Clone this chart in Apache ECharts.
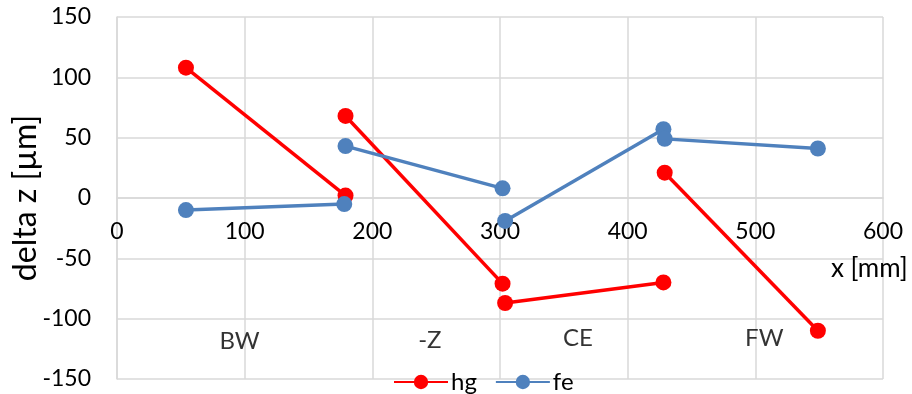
<!DOCTYPE html>
<html>
<head>
<meta charset="utf-8">
<script src="https://cdn.jsdelivr.net/npm/echarts@6/dist/echarts.min.js"></script>
<style>
  html, body { margin: 0; padding: 0; background: #fff; }
  #chart { width: 912px; height: 394px; }
</style>
</head>
<body>
<div id="chart"></div>
<script>
// Measured height deviation per station segment, two probe heads
const hgSegments = [
  [[54, 108], [179, 2]],
  [[179, 68], [302, -71]],
  [[304, -87], [428, -70]],
  [[429, 21], [549, -110]]
];
const feSegments = [
  [[54, -10], [178, -5]],
  [[179, 43], [302, 8]],
  [[304, -19], [428, 57]],
  [[429, 49], [549, 41]]
];
// Section names placed inside the plot
const sectionNames = ['BW', '-Z', 'CE', 'FW'];
const sectionPos = [[96, -119], [245, -118], [361, -116], [507, -116]];

const xTicks = [0, 100, 200, 300, 400, 500, 600];
const yTicks = [-150, -100, -50, 0, 50, 100, 150];

const FONT = 'Lato';
const RED = '#ff0000';
const BLUE = '#4f81bd';
const GRIDC = '#d9d9d9';

const GRID = { left: 117, right: 29, top: 17, bottom: 15 };
const PLOT_H = 394 - GRID.top - GRID.bottom;
// lift the x axis from the plot bottom up to the zero line
const zeroLift = -PLOT_H * (0 - yTicks[0]) / (yTicks[yTicks.length - 1] - yTicks[0]);

function segSeries(name, color, segs) {
  return segs.map(seg => ({
    name: name,
    type: 'line',
    data: seg,
    symbol: 'circle',
    symbolSize: 16,
    lineStyle: { color: color, width: 3.5 },
    itemStyle: { color: color },
    emphasis: { disabled: true },
    animation: false,
    z: 3
  }));
}

const chart = echarts.init(document.getElementById('chart'), null, { renderer: 'canvas' });
chart.setOption({
  backgroundColor: '#fff',
  animation: false,
  textStyle: { fontFamily: FONT },
  grid: Object.assign({ containLabel: false, outerBoundsMode: 'none' }, GRID),
  xAxis: {
    type: 'value',
    min: xTicks[0], max: xTicks[xTicks.length - 1], interval: 100,
    offset: zeroLift,
    name: 'x [mm]',
    nameLocation: 'end',
    nameGap: -52,
    nameMoveOverlap: false,
    nameTextStyle: { fontFamily: FONT, fontSize: 26, color: '#000', align: 'left', verticalAlign: 'top', padding: [58, 0, 0, 0] },
    axisLine: { onZero: false, lineStyle: { color: GRIDC, width: 1.5 } },
    axisTick: { show: false },
    axisLabel: { fontFamily: FONT, fontSize: 23, color: '#000', margin: 22 },
    splitLine: { show: true, lineStyle: { color: GRIDC, width: 1.5 } }
  },
  yAxis: {
    type: 'value',
    min: yTicks[0], max: yTicks[yTicks.length - 1], interval: 50,
    name: 'delta z [µm]',
    nameLocation: 'middle',
    nameGap: 75,
    nameMoveOverlap: false,
    nameRotate: 90,
    nameTextStyle: { fontFamily: FONT, fontSize: 32, color: '#000' },
    axisLine: { show: true, onZero: false, lineStyle: { color: GRIDC, width: 1.5 } },
    axisTick: { show: false },
    axisLabel: { fontFamily: FONT, fontSize: 23, color: '#000', margin: 26 },
    splitLine: { show: true, lineStyle: { color: GRIDC, width: 1.5 } }
  },
  legend: {
    data: ['hg', 'fe'],
    left: 388,
    top: 365,
    itemWidth: 54,
    itemHeight: 18,
    itemGap: 18,
    textStyle: { fontFamily: FONT, fontSize: 24, color: '#000', padding: [0, 0, 0, -2] }
  },
  series: [
    ...segSeries('hg', RED, hgSegments),
    ...segSeries('fe', BLUE, feSegments),
    {
      name: 'sections',
      type: 'scatter',
      data: sectionPos.map((p, i) => ({ value: p, name: sectionNames[i] })),
      symbolSize: 0,
      silent: true,
      label: {
        show: true,
        position: 'inside',
        formatter: p => p.name,
        fontFamily: FONT,
        fontSize: 24,
        color: '#000'
      },
      z: 2
    }
  ]
});
</script>
</body>
</html>
